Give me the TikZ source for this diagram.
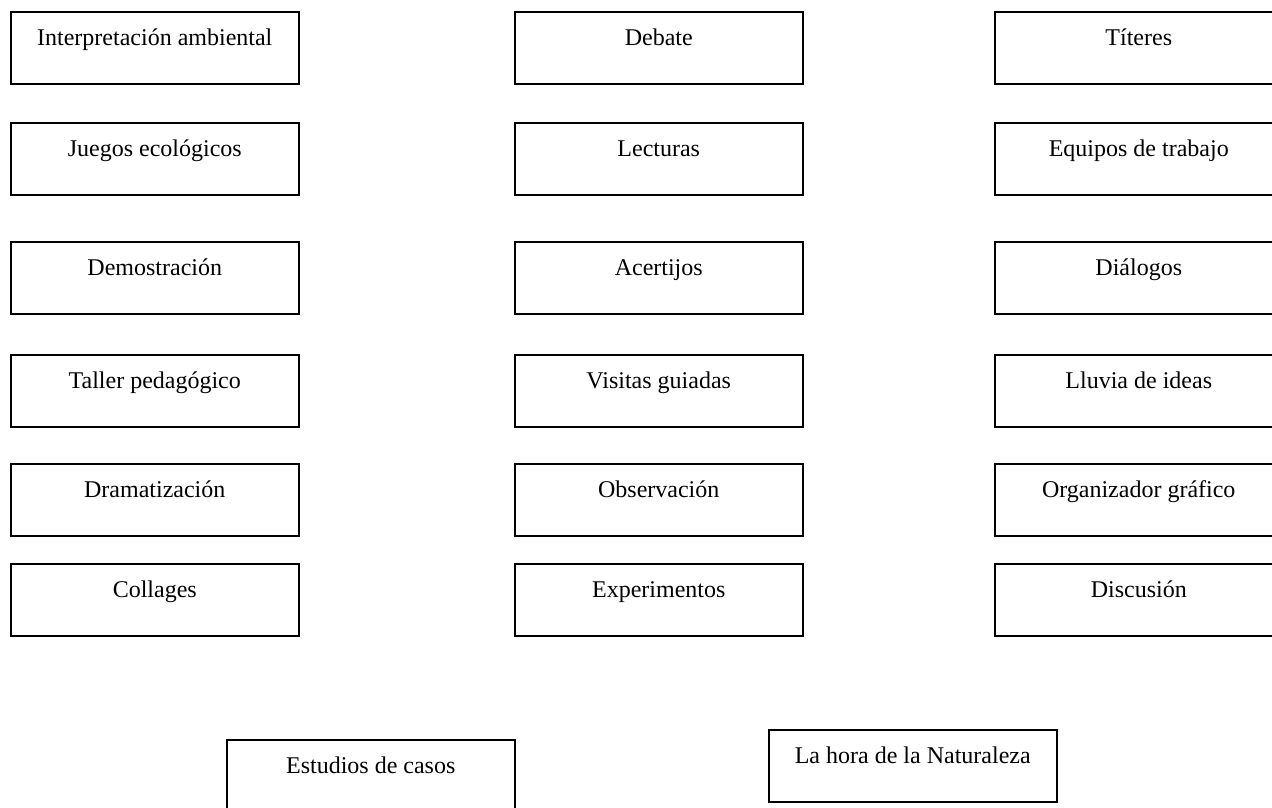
\documentclass[tikz,border=0pt]{standalone}
\usepackage{fontspec}
\setmainfont{Liberation Serif}
\tikzset{
  caja/.style={draw, line width=1.5pt, anchor=north west, inner sep=0pt,
    minimum width=288pt, text height=34pt, text depth=38pt,
    font=\fontsize{24}{28}\selectfont}
}
\begin{document}
\begin{tikzpicture}[x=1pt,y=-1pt]
                \useasboundingbox (0,0) rectangle (1272,807);
                \node[caja] (interp) at (10,11) {Interpretación ambiental};
                \node[caja] (debate) at (514,11) {Debate};
                \node[caja] (titeres) at (994,11) {Títeres};
                \node[caja] (juegos) at (10,122) {Juegos ecológicos};
                \node[caja] (lecturas) at (514,122) {Lecturas};
                \node[caja] (equipos) at (994,122) {Equipos de trabajo};
                \node[caja] (demo) at (10,241) {Demostración};
                \node[caja] (acertijos) at (514,241) {Acertijos};
                \node[caja] (dialogos) at (994,241) {Diálogos};
                \node[caja] (taller) at (10,354) {Taller pedagógico};
                \node[caja] (visitas) at (514,354) {Visitas guiadas};
                \node[caja] (lluvia) at (994,354) {Lluvia de ideas};
                \node[caja] (drama) at (10,463) {Dramatización};
                \node[caja] (observ) at (514,463) {Observación};
                \node[caja] (organiz) at (994,463) {Organizador gráfico};
                \node[caja] (collages) at (10,563) {Collages};
                \node[caja] (experim) at (514,563) {Experimentos};
                \node[caja] (discusion) at (994,563) {Discusión};
                \node[caja] (estudios) at (226,739) {Estudios de casos};
                \node[caja] (lahora) at (768,729) {La hora de la Naturaleza};
            \end{tikzpicture}
\end{document}
